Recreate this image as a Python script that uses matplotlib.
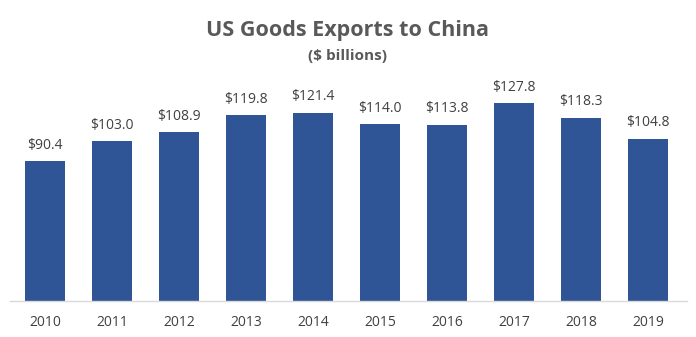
import matplotlib.pyplot as plt

years = ["2010", "2011", "2012", "2013", "2014", "2015", "2016", "2017", "2018", "2019"]
exports = [90.4, 103.0, 108.9, 119.8, 121.4, 114.0, 113.8, 127.8, 118.3, 104.8]
labels = ["$90.4", "$103.0", "$108.9", "$119.8", "$121.4", "$114.0", "$113.8", "$127.8", "$118.3", "$104.8"]

plt.rcParams['font.family'] = ['Open Sans', 'DejaVu Sans']

fig = plt.figure(figsize=(6.96, 3.37), dpi=100)
ax = fig.add_axes([0.0144, 0.1068, 0.9727, 0.644])

x = range(len(years))
bars = ax.bar(x, exports, width=0.6, color='#2F5597', zorder=2)

for b, lab in zip(bars, labels):
    ax.annotate(lab, (b.get_x() + b.get_width() / 2, b.get_height()),
                xytext=(0, 6), textcoords='offset points', ha='center', va='bottom',
                fontsize=10, color='#404040')

ax.set_xlim(-0.52, 9.58)
ax.set_ylim(0, 140)
ax.set_xticks(list(x))
ax.set_xticklabels(years, fontsize=10, color='#404040')
ax.tick_params(axis='x', length=0, pad=10)
ax.set_yticks([])
for s in ['top', 'right', 'left']:
    ax.spines[s].set_visible(False)
ax.spines['bottom'].set_color('#D9D9D9')
ax.spines['bottom'].set_linewidth(1)

fig.text(0.5, 0.91, "US Goods Exports to China", ha='center', va='center',
         fontsize=15.5, fontweight='bold', color='#595959')
fig.text(0.5, 0.835, "($ billions)", ha='center', va='center',
         fontsize=11, fontweight='bold', color='#595959')

fig.savefig('out.png', dpi=100)
